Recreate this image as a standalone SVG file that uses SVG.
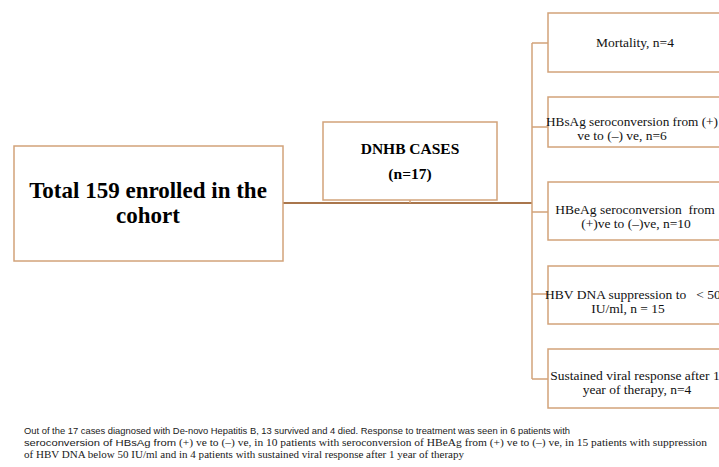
<svg xmlns="http://www.w3.org/2000/svg" width="719" height="467" viewBox="0 0 719 467">
<style>
.box{fill:#fff;stroke:#d2a37a;stroke-width:1.5}
.ln{fill:none;stroke:#d2a37a;stroke-width:1.5}
.main{fill:none;stroke:#a9764c;stroke-width:2}
.big{font-family:"Liberation Serif","Times New Roman",serif;font-weight:bold;fill:#000}
.t{font-family:"Liberation Serif","Times New Roman",serif;font-size:13.5px;fill:#111}
.cap{font-size:9.8px;fill:#1a1a1a}
.sans{font-family:"Liberation Sans",Arial,sans-serif}
.serif{font-family:"Liberation Serif","Times New Roman",serif}
</style>
<rect width="719" height="467" fill="#fff"/>
<g id="connectors">
<path class="main" d="M283,203 H532"/>
<path class="ln" d="M410,200 V203"/>
<path class="ln" d="M532,43 V379"/>
<path class="ln" d="M532,43 H548 M532,127 H548 M532,212 H548 M532,294 H548 M532,379 H548"/>
</g>
<g id="total">
<rect class="box" x="14" y="146" width="269" height="115"/>
<text class="big" font-size="23" text-anchor="middle" x="148" y="198">Total 159 enrolled in the</text>
<text class="big" font-size="23" text-anchor="middle" x="148" y="223">cohort</text>
</g>
<g id="dnhb">
<rect class="box" x="323" y="122" width="174" height="78"/>
<text class="big" font-size="15.5" text-anchor="middle" x="410" y="154">DNHB CASES</text>
<text class="big" font-size="15.5" text-anchor="middle" x="410" y="179">(n=17)</text>
</g>
<g id="mortality">
<rect class="box" x="548" y="13" width="176" height="59"/>
<text class="t" text-anchor="middle" x="635" y="47">Mortality, n=4</text>
</g>
<g id="hbsag">
<rect class="box" x="548" y="97" width="176" height="50"/>
<text class="t" x="546" y="126" textLength="172" lengthAdjust="spacingAndGlyphs">HBsAg seroconversion  from (+)</text>
<text class="t" text-anchor="middle" x="622" y="140">ve to (–) ve, n=6</text>
</g>
<g id="hbeag">
<rect class="box" x="548" y="182" width="176" height="58"/>
<text class="t" text-anchor="middle" x="635" y="214" xml:space="preserve">HBeAg seroconversion  from</text>
<text class="t" text-anchor="middle" x="636" y="228">(+)ve to (–)ve, n=10</text>
</g>
<g id="hbvdna">
<rect class="box" x="548" y="266" width="176" height="58"/>
<text class="t" x="545" y="299" xml:space="preserve">HBV DNA suppression to   &lt; 50</text>
<text class="t" text-anchor="middle" x="628" y="313">IU/ml, n = 15</text>
</g>
<g id="sustained">
<rect class="box" x="548" y="349" width="176" height="59"/>
<text class="t" text-anchor="middle" x="635" y="380">Sustained viral response after 1</text>
<text class="t" text-anchor="middle" x="637" y="394">year of therapy, n=4</text>
</g>
<g id="caption">
<text class="cap sans" x="24" y="434" textLength="546" lengthAdjust="spacingAndGlyphs">Out of the 17 cases diagnosed with De-novo Hepatitis B, 13 survived and 4 died. Response to treatment was seen in 6 patients with</text>
<text class="cap sans" x="24" y="446" textLength="152" lengthAdjust="spacingAndGlyphs">seroconversion of HBsAg from</text>
<text class="cap serif" x="179" y="446" textLength="528" lengthAdjust="spacingAndGlyphs">(+) ve to (–) ve, in 10 patients with seroconversion of HBeAg from (+) ve to (–) ve, in 15 patients with suppression</text>
<text class="cap serif" x="24" y="458" textLength="440" lengthAdjust="spacingAndGlyphs">of HBV DNA below 50 IU/ml and in 4 patients with sustained  viral response after 1 year of therapy</text>
</g>
</svg>
